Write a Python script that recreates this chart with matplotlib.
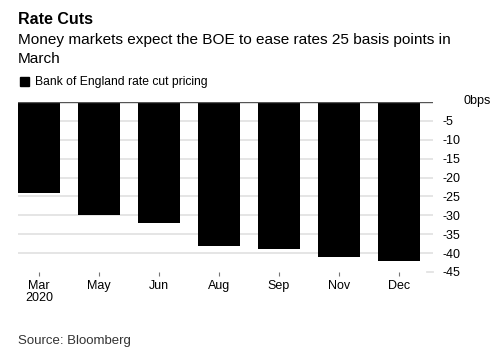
import matplotlib
matplotlib.use("Agg")
import matplotlib.pyplot as plt
import numpy as np

plt.rcParams['font.family'] = ['Liberation Sans', 'DejaVu Sans']

months = ["Mar\n2020", "May", "Jun", "Aug", "Sep", "Nov", "Dec"]
values = [-24, -30, -32, -38, -39, -41, -42]
yticks = [0, -5, -10, -15, -20, -25, -30, -35, -40, -45]
ytick_labels = ["0bps", "-5", "-10", "-15", "-20", "-25", "-30", "-35", "-40", "-45"]

W, H = 500, 360
fig = plt.figure(figsize=(W / 100, H / 100), dpi=100)
fig.patch.set_facecolor("white")

ax_l, ax_r, ax_t, ax_b = 18, 433, 102, 272
ax = fig.add_axes([ax_l / W, 1 - ax_b / H, (ax_r - ax_l) / W, (ax_b - ax_t) / H])

x = np.arange(len(months))
ax.set_xlim(-0.35, len(months) - 1 + 0.567)
ax.set_ylim(-45, 0)

for v in yticks[1:-1]:
    ax.axhline(v, color="#e3e3e3", lw=1.3, zorder=0)
ax.axhline(yticks[-1], xmin=0.985, xmax=1.0, color="#e3e3e3", lw=1.3, zorder=0, clip_on=False)
ax.bar(x, values, width=0.7, color="black", zorder=2)
ax.axhline(0, color="#555555", lw=1.0, zorder=3)

for s in ax.spines.values():
    s.set_visible(False)

ax.set_xticks(x)
ax.set_xticklabels(months, fontsize=9, linespacing=1.0)
ax.tick_params(axis="x", length=3, width=0.8, color="#777777", pad=3)

ax.yaxis.tick_right()
ax.set_yticks(yticks[1:])
ax.set_yticklabels(ytick_labels[1:], fontsize=9, ha="left")
ax.tick_params(axis="y", length=0, pad=7)
fig.text(463 / W, 1 - 101 / H, ytick_labels[0], fontsize=9, ha="left", va="center")

fig.text(18 / W, 1 - 20 / H, "Rate Cuts", fontsize=11.5, fontweight="bold", ha="left", va="center")
fig.text(18 / W, 1 - 40 / H, "Money markets expect the BOE to ease rates 25 basis points in",
         fontsize=11.1, ha="left", va="center")
fig.text(18 / W, 1 - 59 / H, "March", fontsize=11.1, ha="left", va="center")

fig.patches.append(plt.Rectangle((20 / W, 1 - 86 / H), 9 / W, 9 / H, transform=fig.transFigure,
                                 color="black"))
fig.text(35 / W, 1 - 81.5 / H, "Bank of England rate cut pricing", fontsize=8.7, ha="left", va="center")

fig.text(18 / W, 1 - 341 / H, "Source: Bloomberg", fontsize=9.5, color="#333333", ha="left", va="center")

fig.savefig("out.png", dpi=100)
